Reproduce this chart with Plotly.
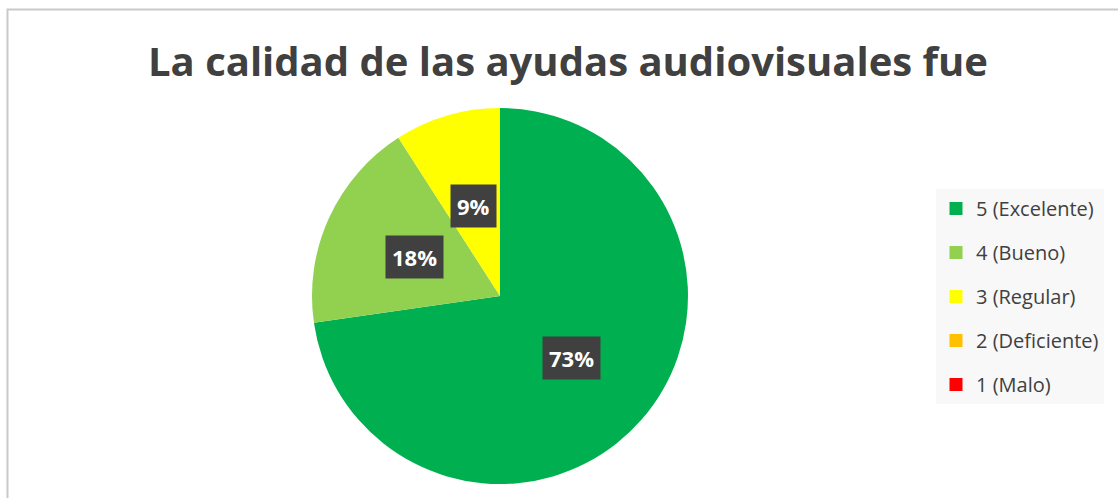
import math
import plotly.graph_objects as go

# ---- data ----
categories = ["5 (Excelente)", "4 (Bueno)", "3 (Regular)", "2 (Deficiente)", "1 (Malo)"]
counts = [8, 2, 1, 0, 0]
colors = ["#00B050", "#92D050", "#FFFF00", "#FFC000", "#FF0000"]
title_text = "La calidad de las ayudas audiovisuales fue"

W, H = 1118, 498
FONT = "Open Sans"

# pie placement (pixels)
cx, cy, r = 500, 296, 188
dom_x = [(cx - r) / W, (cx + r) / W]
dom_y = [1 - (cy + r) / H, 1 - (cy - r) / H]

fig = go.Figure()
fig.add_trace(go.Pie(
    labels=categories, values=counts, sort=False, direction="clockwise", rotation=0,
    marker=dict(colors=colors, line=dict(width=0)),
    textinfo="none", showlegend=False, domain=dict(x=dom_x, y=dom_y),
))

# legend entries as separate groups for spacing
for cat, col in zip(categories, colors):
    fig.add_trace(go.Scatter(
        x=[None], y=[None], mode="markers", name=cat, legendgroup=cat,
        marker=dict(symbol="square", size=13, color=col),
        showlegend=True, hoverinfo="skip",
    ))

# data labels in dark boxes, placed at half radius of each slice's mid-angle
total = sum(counts)
cum = 0
for v in counts:
    if v > 0:
        mid = (cum + v / 2) / total * 2 * math.pi
        lx = cx + 0.5 * r * math.sin(mid)
        ly = cy - 0.5 * r * math.cos(mid)
        pct = f"{round(100 * v / total)}%"
        fig.add_annotation(
            x=lx / W, y=1 - ly / H, xref="paper", yref="paper",
            xanchor="center", yanchor="middle",
            text=f"<b>{pct}</b>", showarrow=False,
            font=dict(family=FONT, size=22, color="white"),
            bgcolor="#404040", borderpad=6,
        )
    cum += v

# chart border
fig.add_shape(type="rect", xref="paper", yref="paper",
              x0=7.5 / W, x1=1.05, y0=-0.05, y1=1 - 9.5 / H,
              line=dict(color="#C9C9C9", width=2), fillcolor="rgba(0,0,0,0)", layer="below")

fig.update_layout(
    width=W, height=H,
    margin=dict(l=0, r=0, t=0, b=0),
    paper_bgcolor="white", plot_bgcolor="white",
    title=dict(text=f"<b>{title_text}</b>", x=568 / W, xanchor="center",
               y=1 - 62 / H, yanchor="middle",
               font=dict(family=FONT, size=40, color="#404040")),
    xaxis=dict(visible=False), yaxis=dict(visible=False),
    legend=dict(x=936 / W, y=1 - 189 / H, xanchor="left", yanchor="top",
                bgcolor="#F8F8F8", font=dict(family=FONT, size=20, color="#404040"),
                tracegroupgap=15, itemclick=False, itemdoubleclick=False),
    showlegend=True,
)

fig.write_html("out.html", config={"displayModeBar": False},
               post_script="document.body.style.margin='0';")
